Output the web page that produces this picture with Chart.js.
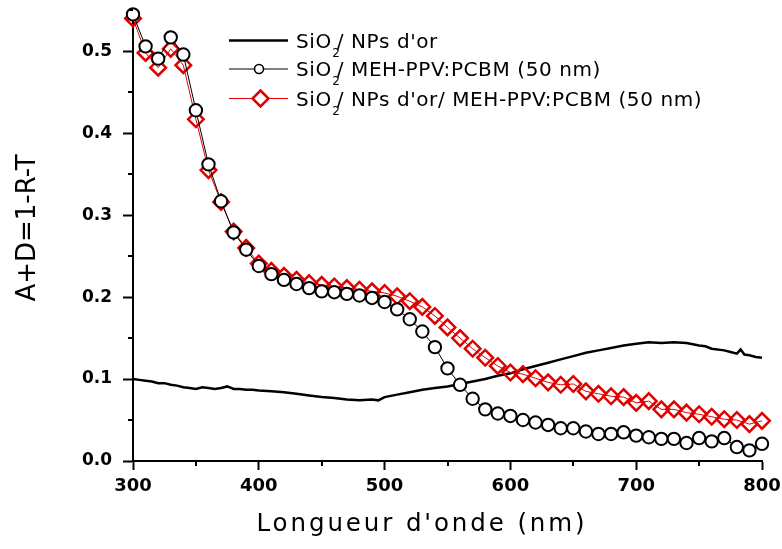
<!DOCTYPE html>
<html>
<head>
<meta charset="utf-8">
<title>A+D=1-R-T</title>
<script src="https://cdn.jsdelivr.net/npm/chart.js@4.4.1/dist/chart.umd.min.js"></script>
<style>
    html, body { margin: 0; padding: 0; background: #fff; }
    #wrap { width: 782px; height: 549px; position: relative; }
</style>
</head>
<body>
<div id="wrap"><canvas id="absChart"></canvas></div>
<script>
// SiO2 / NPs d'or (continuous spectrum)
const npsWavelengths = [300, 305, 310, 315, 320, 325, 330, 335, 340, 345, 350, 355, 360, 365, 370, 375, 380, 385, 390, 395,
    400, 410, 420, 430, 440, 450, 460, 470, 480, 490, 495, 500, 510, 520, 530, 540, 550, 560, 570, 580,
    590, 600, 610, 620, 630, 640, 650, 660, 670, 680, 690, 700, 710, 720, 730, 740, 750, 755, 760, 770,
    775, 780, 783, 786, 790, 795, 800];
const npsValues = [0.100, 0.099, 0.098, 0.097, 0.095, 0.095, 0.093, 0.092, 0.090, 0.089, 0.088, 0.090, 0.089, 0.088, 0.089, 0.091, 0.088, 0.088, 0.087, 0.087,
    0.086, 0.085, 0.084, 0.082, 0.080, 0.078, 0.077, 0.075, 0.074, 0.075, 0.074, 0.078, 0.081, 0.084, 0.087, 0.089, 0.091, 0.094, 0.097, 0.100,
    0.104, 0.107, 0.112, 0.116, 0.120, 0.124, 0.128, 0.132, 0.135, 0.138, 0.141, 0.143, 0.145, 0.144, 0.145, 0.144, 0.141, 0.140, 0.137, 0.135,
    0.133, 0.131, 0.136, 0.130, 0.129, 0.127, 0.126];

// wavelengths of the marker series (nm)
const markerWavelengths = [300, 310, 320, 330, 340, 350, 360, 370, 380, 390, 400, 410, 420, 430, 440, 450, 460, 470, 480, 490,
    500, 510, 520, 530, 540, 550, 560, 570, 580, 590, 600, 610, 620, 630, 640, 650, 660, 670, 680, 690,
    700, 710, 720, 730, 740, 750, 760, 770, 780, 790, 800];

// SiO2 / MEH-PPV:PCBM (50 nm)
const polymerValues = [0.545, 0.506, 0.491, 0.517, 0.496, 0.428, 0.362, 0.317, 0.279, 0.258, 0.238, 0.228, 0.221, 0.216, 0.211, 0.207, 0.206, 0.204, 0.202, 0.199,
    0.194, 0.185, 0.173, 0.158, 0.139, 0.113, 0.093, 0.076, 0.063, 0.058, 0.055, 0.050, 0.047, 0.044, 0.040, 0.040, 0.036, 0.033, 0.033, 0.035,
    0.031, 0.029, 0.027, 0.027, 0.022, 0.028, 0.024, 0.028, 0.017, 0.013, 0.021];

// SiO2 / NPs d'or / MEH-PPV:PCBM (50 nm)
const hybridValues = [0.540, 0.498, 0.480, 0.503, 0.483, 0.417, 0.355, 0.316, 0.280, 0.260, 0.241, 0.232, 0.226, 0.221, 0.217, 0.215, 0.213, 0.211, 0.209, 0.207,
    0.205, 0.201, 0.195, 0.188, 0.177, 0.163, 0.150, 0.137, 0.126, 0.116, 0.108, 0.106, 0.101, 0.096, 0.093, 0.094, 0.085, 0.082, 0.079, 0.078,
    0.071, 0.073, 0.063, 0.063, 0.059, 0.057, 0.054, 0.051, 0.050, 0.045, 0.049];

// legend labels: [before subscript, subscript, after subscript]
const legendLabels = [
    ['SiO', '2', "/ NPs d'or"],
    ['SiO', '2', '/ MEH-PPV:PCBM (50 nm)'],
    ['SiO', '2', "/ NPs d'or/ MEH-PPV:PCBM (50 nm)"]
];
const xTitle = "Longueur d'onde (nm)";
const yTitle = 'A+D=1-R-T';

const RED = '#e00000';

const toPoints = (xs, ys) => xs.map((x, i) => ({ x: x, y: ys[i] }));

// minor ticks are shorter, drawn here
const minorTicks = {
    id: 'minorTicks',
    afterDraw(chart) {
        const ctx = chart.ctx;
        const xs = chart.scales.x;
        const ys = chart.scales.y;
        ctx.save();
        ctx.strokeStyle = '#000';
        ctx.lineWidth = 2;
        ctx.beginPath();
        xs.ticks.forEach(t => {
            if (t.value % 100 !== 0) {
                const px = Math.round(xs.getPixelForValue(t.value));
                ctx.moveTo(px, xs.top);
                ctx.lineTo(px, xs.top + 5);
            }
        });
        ys.ticks.forEach(t => {
            if (Math.round(t.value * 20) % 2 !== 0) {
                const py = Math.round(ys.getPixelForValue(t.value));
                ctx.moveTo(ys.right, py);
                ctx.lineTo(ys.right - 5, py);
            }
        });
        ctx.stroke();
        ctx.restore();
    }
};

// axis titles
const axisTitles = {
    id: 'axisTitles',
    afterDraw(chart) {
        const ctx = chart.ctx;
        ctx.save();
        ctx.fillStyle = '#000';
        ctx.textAlign = 'center';
        ctx.textBaseline = 'alphabetic';
        ctx.font = '24.5px "DejaVu Sans"';
        if ('letterSpacing' in ctx) ctx.letterSpacing = '2.9px';
        ctx.fillText(xTitle, 422, 531);
        ctx.font = '26px "DejaVu Sans"';
        if ('letterSpacing' in ctx) ctx.letterSpacing = '0px';
        ctx.translate(34.5, 228);
        ctx.rotate(-Math.PI / 2);
        ctx.fillText(yTitle, 0, 0);
        ctx.restore();
    }
};

// inset legend with subscripts
const insetLegend = {
    id: 'insetLegend',
    afterDraw(chart) {
        const ctx = chart.ctx;
        const rowsY = [40.5, 69, 98.5];
        ctx.save();
        legendLabels.forEach((parts, i) => {
            const y = rowsY[i];
            const ds = chart.data.datasets[i];
            ctx.strokeStyle = ds.borderColor;
            ctx.lineWidth = i === 0 ? 2.5 : 1;
            ctx.beginPath();
            ctx.moveTo(229, y);
            ctx.lineTo(288, y);
            ctx.stroke();
            if (i === 1) {
                ctx.beginPath();
                ctx.arc(259, y, 4.5, 0, Math.PI * 2);
                ctx.fillStyle = '#fff';
                ctx.fill();
                ctx.lineWidth = 1.6;
                ctx.stroke();
            } else if (i === 2) {
                ctx.beginPath();
                ctx.moveTo(260.5, y - 8);
                ctx.lineTo(268.5, y);
                ctx.lineTo(260.5, y + 8);
                ctx.lineTo(252.5, y);
                ctx.closePath();
                ctx.fillStyle = '#fff';
                ctx.fill();
                ctx.lineWidth = 2.5;
                ctx.stroke();
            }
            // text
            ctx.fillStyle = '#000';
            ctx.textAlign = 'left';
            ctx.textBaseline = 'alphabetic';
            if ('letterSpacing' in ctx) ctx.letterSpacing = '0.6px';
            const base = y + 7.2;
            let x = 296;
            ctx.font = '20px "DejaVu Sans"';
            ctx.fillText(parts[0], x, base);
            x += ctx.measureText(parts[0]).width;
            ctx.font = '12px "DejaVu Sans"';
            ctx.fillText(parts[1], x + 0.5, base + 9);
            x += ctx.measureText(parts[1]).width * 0.6;
            ctx.font = '20px "DejaVu Sans"';
            ctx.fillText(parts[2], x, base);
        });
        ctx.restore();
    }
};

Chart.defaults.font.family = '"DejaVu Sans"';
Chart.defaults.color = '#000';

new Chart(document.getElementById('absChart'), {
    type: 'line',
    data: {
        datasets: [{
            label: "SiO2/ NPs d'or",
            data: toPoints(npsWavelengths, npsValues),
            borderColor: '#000',
            borderWidth: 2.5,
            pointRadius: 0,
            tension: 0,
            order: 2
        }, {
            label: 'SiO2/ MEH-PPV:PCBM (50 nm)',
            data: toPoints(markerWavelengths, polymerValues),
            borderColor: '#000',
            borderWidth: 1,
            pointStyle: 'circle',
            pointRadius: 6.2,
            pointBorderWidth: 2,
            pointBorderColor: '#000',
            pointBackgroundColor: '#fff',
            tension: 0,
            order: 0
        }, {
            label: "SiO2/ NPs d'or/ MEH-PPV:PCBM (50 nm)",
            data: toPoints(markerWavelengths, hybridValues),
            borderColor: RED,
            borderWidth: 1,
            pointStyle: 'rectRot',
            pointRadius: 7.8,
            pointBorderWidth: 2.5,
            pointBorderColor: RED,
            pointBackgroundColor: 'rgba(255,255,255,0)',
            tension: 0,
            order: 1
        }]
    },
    options: {
        responsive: true,
        maintainAspectRatio: false,
        animation: false,
        clip: false,
        layout: {
            padding: { top: 9, right: 20, left: 0, bottom: 0 }
        },
        scales: {
            x: {
                type: 'linear',
                min: 300,
                max: 800,
                afterFit: scale => {
                    scale.height = 88;
                    scale.paddingLeft = 0;
                    scale.paddingRight = 0;
                },
                ticks: {
                    stepSize: 50,
                    autoSkip: false,
                    maxRotation: 0,
                    padding: 6,
                    font: { size: 18, weight: 'bold' },
                    callback: v => (v % 100 === 0 ? String(v) : '')
                },
                grid: {
                    drawOnChartArea: false,
                    tickLength: 9,
                    tickWidth: 2,
                    tickColor: c => (c.tick && c.tick.value % 100 === 0 ? '#000' : 'rgba(0,0,0,0)')
                },
                border: { color: '#000', width: 2 }
            },
            y: {
                min: 0,
                max: 0.55,
                afterFit: scale => {
                    scale.width = 133;
                    scale.paddingTop = 0;
                    scale.paddingBottom = 0;
                },
                ticks: {
                    stepSize: 0.05,
                    autoSkip: false,
                    padding: 11,
                    font: { size: 17, weight: 'bold' },
                    callback: v => (Math.round(v * 20) % 2 === 0 ? v.toFixed(1) : '')
                },
                grid: {
                    drawOnChartArea: false,
                    tickLength: 10,
                    tickWidth: 2,
                    tickColor: c => (c.tick && Math.round(c.tick.value * 20) % 2 === 0 ? '#000' : 'rgba(0,0,0,0)')
                },
                border: { color: '#000', width: 2 }
            }
        },
        plugins: {
            legend: { display: false },
            tooltip: { enabled: false }
        }
    },
    plugins: [minorTicks, axisTitles, insetLegend]
});
</script>
</body>
</html>
